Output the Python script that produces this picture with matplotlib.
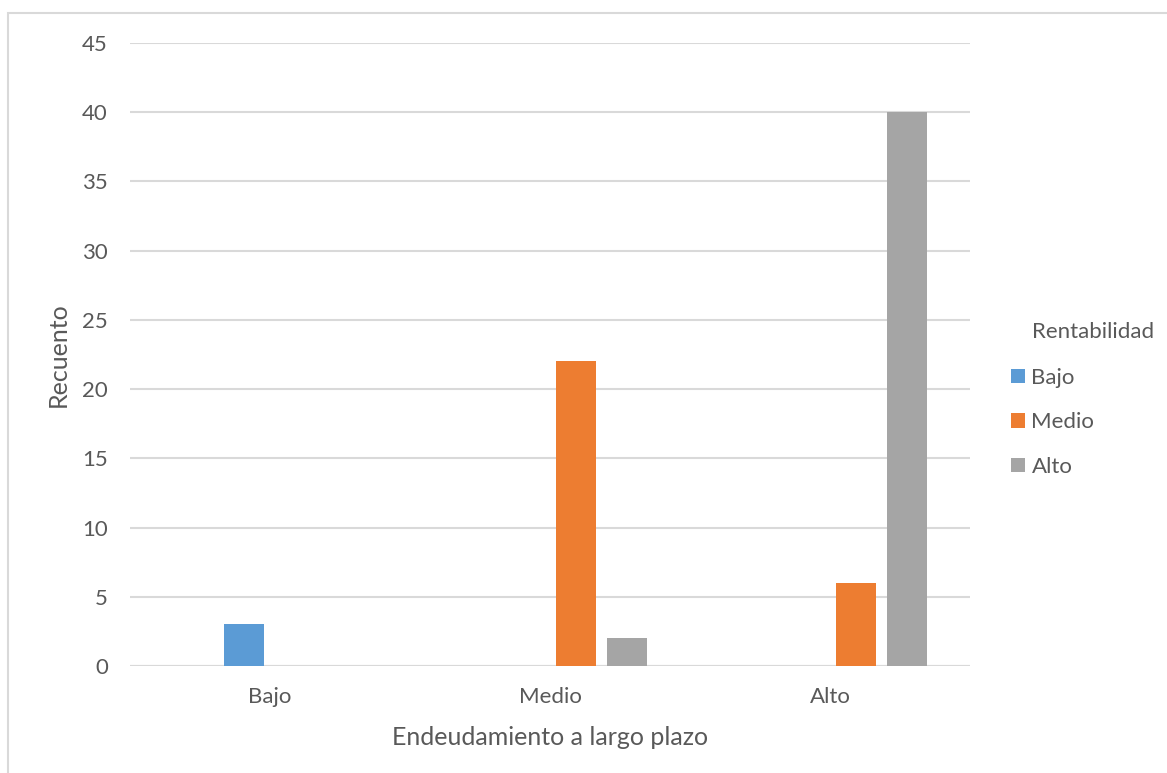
import matplotlib.pyplot as plt
from matplotlib.patches import Rectangle
import numpy as np

plt.rcParams['font.family'] = ['Lato', 'DejaVu Sans']

# Recuento por nivel de endeudamiento y rentabilidad
categorias = ['Bajo', 'Medio', 'Alto']
series = ['Bajo', 'Medio', 'Alto']
recuento_bajo = [3, 0, 0]
recuento_medio = [0, 22, 6]
recuento_alto = [0, 2, 40]
colores = ['#5b9bd5', '#ed7d31', '#a5a5a5']
texto = '#595959'

fig = plt.figure(figsize=(11.67, 7.73), dpi=100)
ax = fig.add_axes([130 / 1167, 1 - 666 / 773, 840 / 1167, 623 / 773])

x = np.arange(len(categorias))
paso = 0.1825
ancho = 0.143
for i, (nombre, valores, color) in enumerate(zip(series, [recuento_bajo, recuento_medio, recuento_alto], colores)):
    # el primer hueco del grupo queda vacío
    ax.bar(x + (i + 1 - 1.5) * paso, valores, width=ancho, color=color, label=nombre, zorder=3)

ax.set_xlim(-0.5, 2.5)
ax.set_ylim(0, 45)
ax.set_yticks(range(0, 46, 5))
ax.set_xticks(x)
ax.set_xticklabels(categorias)
ax.yaxis.grid(True, color='#d9d9d9', linewidth=1.5, zorder=0)
ax.tick_params(length=0, labelsize=16, colors=texto)
ax.tick_params(axis='y', pad=16)
ax.tick_params(axis='x', pad=15)
for lado in ax.spines.values():
    lado.set_visible(False)
ax.axhline(0, color='#d9d9d9', linewidth=1.5, zorder=1)

ax.set_ylabel('Recuento', fontsize=18, color=texto, labelpad=9)
ax.set_xlabel('Endeudamiento a largo plazo', fontsize=18, color=texto, labelpad=14)

leg = fig.legend(loc='upper left', bbox_to_anchor=(1011 / 1167, 1 - 368 / 773),
                 frameon=False, fontsize=16, borderpad=0, borderaxespad=0,
                 handlelength=0.62, handleheight=0.62, handletextpad=0.3,
                 labelspacing=1.1)
for t in leg.get_texts():
    t.set_color(texto)
fig.text(1032 / 1167, 1 - 332 / 773, 'Rentabilidad', fontsize=16, color=texto,
         ha='left', va='center')

# marco del gráfico
fig.patches.append(Rectangle((8 / 1167, -0.1), 1.2, 1 - 13 / 773 + 0.1,
                             transform=fig.transFigure, fill=False,
                             edgecolor='#d9d9d9', linewidth=1.5))

fig.savefig('out.png', dpi=100)
